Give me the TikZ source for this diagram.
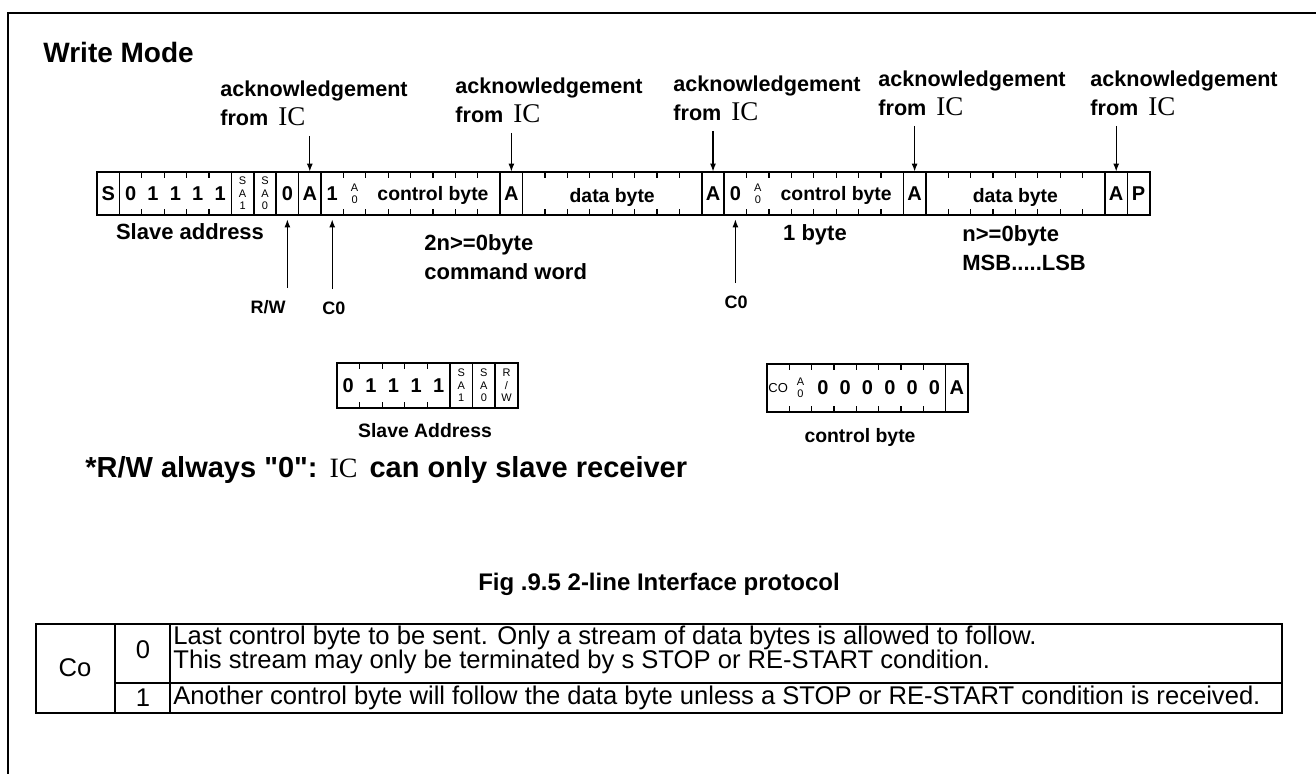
\documentclass[tikz,border=0pt]{standalone}
\usepackage{fontspec}
\setmainfont{Liberation Sans}[Ligatures=TeXOff]
\newfontfamily\icfont{Liberation Serif}
\usetikzlibrary{arrows.meta}

\begin{document}
\begin{tikzpicture}[x=0.5pt,y=-0.5pt,
    boxline/.style={line width=1pt},
    divline/.style={line width=0.8pt},
    tickline/.style={line width=0.6pt},
    bitcell/.style={inner sep=0pt, minimum width=11.2pt, minimum height=21.5pt, font=\fontsize{10}{12}\selectfont\bfseries},
    tinycell/.style={bitcell, align=center, font=\fontsize{5.5}{6.2}\selectfont},
    acklbl/.style={anchor=south west, inner sep=0pt, align=left, font=\fontsize{10.8}{14.5}\selectfont\bfseries},
    lbl/.style={inner sep=0pt, font=\fontsize{11}{14.5}\selectfont\bfseries},
    smlbl/.style={inner sep=0pt, font=\fontsize{9}{10}\selectfont\bfseries},
    sublbl/.style={inner sep=0pt, font=\fontsize{9.7}{11}\selectfont\bfseries},
    ackarrow/.style={-{Latex[length=4pt,width=3pt]}, line width=0.6pt, shorten <=5pt},
    uparrow/.style={-{Latex[length=4pt,width=3pt]}, line width=0.6pt, shorten <=6pt, shorten >=2pt},
    tbltext/.style={inner sep=0pt, font=\fontsize{12.8}{12}\selectfont}]
  \useasboundingbox (0,0) rectangle (1316,774);
  % frame
  \draw[line width=0.8pt] (8,774) -- (8,13) -- (1316,13);
  \node[anchor=south west, inner sep=0pt, font=\fontsize{14}{16}\selectfont\bfseries] (title) at (43,63) {Write Mode};

  % write sequence
  \draw[boxline] (97,172) rectangle (1150,215);
  \foreach \b in {1,6,7,8,9,10,18,19,27,28,36,37,45,46}
    \draw[divline] ({97+22.4*\b},172) -- ({97+22.4*\b},215);
  \foreach \g/\n in {1/4,10/7,19/7,28/7,37/7}
    \foreach \k in {1,...,\n} {
      \draw[tickline] ({97+22.4*(\g+\k)},172) -- ++(0,6);
      \draw[tickline] ({97+22.4*(\g+\k)},215) -- ++(0,-6);
    }
  \foreach \i/\t in {0/S,1/0,2/1,3/1,4/1,5/1,8/0,9/A,10/1,18/A,27/A,28/0,36/A,45/A,46/P}
    \node[bitcell] (c\i) at ({97+22.4*(\i+0.5)},193.5) {\t};
  \foreach \i/\t in {6/{S\\A\\1},7/{S\\A\\0},11/{A\\0},29/{A\\0}}
    \node[tinycell] (c\i) at ({97+22.4*(\i+0.5)},193.5) {\t};
  \node[sublbl] (ctrlA) at ({97+22.4*15},195) {control byte};
  \node[sublbl] (dataA) at ({97+22.4*23},197) {data byte};
  \node[sublbl] (ctrlB) at ({97+22.4*33},195) {control byte};
  \node[sublbl] (dataB) at ({97+22.4*41},197) {data byte};

  % acknowledgements
  \foreach \n/\x/\y/\c in {1/220/126/9,2/455/123/18,3/673/121/27,4/878/116/36,5/1090/116/45} {
    \node[acklbl] (ack\n) at (\x,\y) {acknowledgement\\from\hspace{5pt}{\icfont\mdseries\fontsize{13.5}{14}\selectfont IC}};
    \draw[ackarrow] (c\c.north |- ack\n.south) -- (c\c.north);
  }

  % labels under the sequence
  \node[lbl] (slaveaddr) at (190,232) {Slave address};
  \node[smlbl] (rw) at (268,307) {R/W};
  \node[smlbl] (coA) at (334,308) {C0};
  \node[smlbl] (coB) at (736,302) {C0};
  \draw[uparrow] (c8.south |- rw.north) -- (c8.south);
  \draw[uparrow] (c10.south |- coA.north) -- (c10.south);
  \draw[uparrow] (c28.south |- coB.north) -- (c28.south);
  \node[lbl, anchor=west, align=left] (cmdword) at (424,257) {2n>=0byte\\command word};
  \node[lbl] (onebyte) at (815,235) {1 byte};
  \node[lbl, anchor=west, align=left] (msblsb) at (962,248) {n>=0byte\\MSB.....LSB};

  % slave address
  \draw[boxline] (337,363) rectangle (518,408);
  \foreach \b in {5,6,7}
    \draw[divline] ({337+22.6*\b},363) -- ({337+22.6*\b},408);
  \foreach \b in {1,...,4} {
    \draw[tickline] ({337+22.6*\b},363) -- ++(0,6);
    \draw[tickline] ({337+22.6*\b},408) -- ++(0,-6);
  }
  \foreach \i/\t in {0/0,1/1,2/1,3/1,4/1}
    \node[bitcell] (s\i) at ({337+22.6*(\i+0.5)},385.5) {\t};
  \foreach \i/\t in {5/{S\\A\\1},6/{S\\A\\0},7/{R\\/\\W}}
    \node[tinycell] (s\i) at ({337+22.6*(\i+0.5)},385.5) {\t};
  \node[sublbl] (slavecap) at (425,431) {Slave Address};

  % control byte
  \draw[boxline] (767,364) rectangle (968,412);
  \draw[divline] ({767+22.33*8},364) -- ({767+22.33*8},412);
  \foreach \b in {1,...,7} {
    \draw[tickline] ({767+22.33*\b},364) -- ++(0,6);
    \draw[tickline] ({767+22.33*\b},412) -- ++(0,-6);
  }
  \node[bitcell, font=\fontsize{6.5}{8}\selectfont] (k0) at ({767+22.33*0.5},388) {CO};
  \node[tinycell] (k1) at ({767+22.33*1.5},388) {A\\0};
  \foreach \i/\t in {2/0,3/0,4/0,5/0,6/0,7/0,8/A}
    \node[bitcell] (k\i) at ({767+22.33*(\i+0.5)},388) {\t};
  \node[sublbl] (ctrlcap) at (860,437) {control byte};

  % note and caption
  \node[anchor=west, inner sep=0pt, font=\fontsize{14.5}{16}\selectfont\bfseries] (rwnote) at (85,470)
    {*R/W always "0":\hspace{6pt}{\icfont\mdseries\fontsize{14}{16}\selectfont IC}\hspace{6pt}can only slave receiver};
  \node[inner sep=0pt, font=\fontsize{12}{14}\selectfont\bfseries] (figcap) at (659,584) {Fig .9.5 2-line Interface protocol};

  % Co table
  \draw[line width=1pt] (36,624) rectangle (1282,713);
  \draw[line width=0.6pt] (115,624) -- (115,713);
  \draw[line width=0.6pt] (170,624) -- (170,713);
  \draw[line width=0.8pt] (115,683) -- (1282,683);
  \node[tbltext] (co) at (75,668) {Co};
  \node[tbltext] (co0) at (143,650) {0};
  \node[tbltext] (co1) at (143,698) {1};
  \node[tbltext, anchor=west, align=left] (desc0) at (173,650)
    {Last control byte to be sent. Only a stream of data bytes is allowed to follow.\\This stream may only be terminated by s STOP or RE-START condition.};
  \node[tbltext, anchor=west] (desc1) at (173,698)
    {Another control byte will follow the data byte unless a STOP or RE-START condition is received.};
\end{tikzpicture}
\end{document}
